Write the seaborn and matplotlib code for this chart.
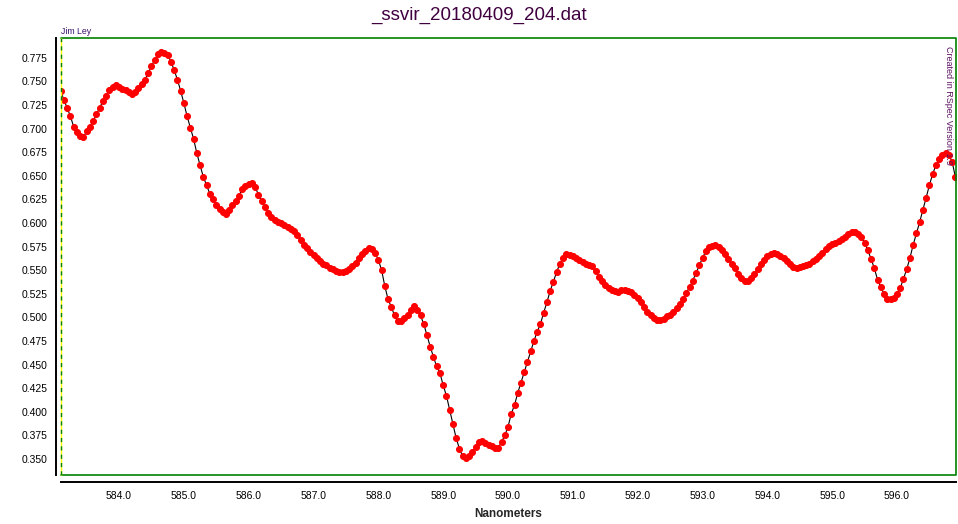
import numpy as np
import matplotlib
matplotlib.use("Agg")
import matplotlib.pyplot as plt
import seaborn as sns
from matplotlib.ticker import MultipleLocator, FormatStrFormatter

# Chart text
TITLE = "_ssvir_20180409_204.dat"
AUTHOR = "Jim Ley"
CREDIT = "Created in RSpec Version 1.9"
X_LABEL = "Nanometers"

# Spectrum sampled on a regular wavelength grid (nm)
WL_START = 583.10
WL_STEP = 0.05
flux = [
    0.740, 0.730, 0.722, 0.713, 0.702, 0.696, 0.692, 0.691, 0.697, 0.702,
    0.708, 0.715, 0.722, 0.729, 0.735, 0.741, 0.744, 0.746, 0.744, 0.742,
    0.741, 0.739, 0.737, 0.739, 0.743, 0.747, 0.752, 0.759, 0.766, 0.773,
    0.779, 0.781, 0.780, 0.778, 0.771, 0.762, 0.752, 0.740, 0.727, 0.713,
    0.701, 0.689, 0.674, 0.661, 0.649, 0.640, 0.631, 0.625, 0.619, 0.615,
    0.612, 0.609, 0.614, 0.619, 0.623, 0.629, 0.636, 0.639, 0.641, 0.642,
    0.638, 0.630, 0.623, 0.617, 0.611, 0.606, 0.603, 0.601, 0.600, 0.598,
    0.596, 0.594, 0.591, 0.587, 0.582, 0.577, 0.573, 0.569, 0.566, 0.563,
    0.560, 0.557, 0.555, 0.552, 0.551, 0.549, 0.548, 0.548, 0.549, 0.551,
    0.554, 0.558, 0.563, 0.567, 0.570, 0.573, 0.572, 0.568, 0.561, 0.550,
    0.533, 0.519, 0.511, 0.502, 0.496, 0.496, 0.499, 0.502, 0.508, 0.512,
    0.508, 0.502, 0.493, 0.481, 0.469, 0.458, 0.448, 0.441, 0.428, 0.417,
    0.402, 0.387, 0.372, 0.361, 0.353, 0.351, 0.353, 0.357, 0.363, 0.368,
    0.369, 0.367, 0.365, 0.364, 0.362, 0.362, 0.368, 0.375, 0.384, 0.398,
    0.407, 0.420, 0.431, 0.442, 0.453, 0.464, 0.475, 0.485, 0.493, 0.505,
    0.516, 0.528, 0.538, 0.548, 0.557, 0.563, 0.567, 0.566, 0.565, 0.563,
    0.561, 0.559, 0.557, 0.556, 0.554, 0.549, 0.543, 0.539, 0.534, 0.531,
    0.529, 0.528, 0.527, 0.529, 0.529, 0.528, 0.527, 0.524, 0.521, 0.516,
    0.511, 0.506, 0.502, 0.499, 0.497, 0.497, 0.498, 0.501, 0.503, 0.506,
    0.510, 0.514, 0.520, 0.526, 0.532, 0.539, 0.547, 0.555, 0.563, 0.570,
    0.575, 0.576, 0.577, 0.575, 0.571, 0.567, 0.562, 0.557, 0.552, 0.546,
    0.542, 0.539, 0.539, 0.542, 0.546, 0.551, 0.557, 0.561, 0.565, 0.567,
    0.568, 0.567, 0.565, 0.563, 0.560, 0.557, 0.553, 0.552, 0.553, 0.554,
    0.555, 0.557, 0.560, 0.562, 0.565, 0.568, 0.572, 0.576, 0.578, 0.579,
    0.581, 0.583, 0.585, 0.588, 0.590, 0.590, 0.588, 0.585, 0.579, 0.571,
    0.562, 0.552, 0.540, 0.532, 0.525, 0.520, 0.519, 0.521, 0.525, 0.531,
    0.541, 0.551, 0.563, 0.577, 0.589, 0.601, 0.614, 0.627, 0.640, 0.652,
    0.661, 0.668, 0.672, 0.674, 0.672, 0.665, 0.649,
]
wavelength = np.round(WL_START + WL_STEP * np.arange(len(flux)), 3)

# Axis ranges
x_range = (583.105, 596.91)
y_range = (0.333, 0.796)

sns.set_style("white")
plt.rcParams["font.family"] = ["Liberation Sans", "DejaVu Sans"]

fig = plt.figure(figsize=(9.58, 5.24), dpi=100)
ax = fig.add_axes([0.0637, 0.0935, 0.9342, 0.834])

sns.lineplot(x=wavelength, y=flux, ax=ax, color="black", linewidth=0.8,
             marker="o", markersize=4.3, markerfacecolor="red",
             markeredgecolor="red", errorbar=None, sort=False)

ax.set_xlim(*x_range)
ax.set_ylim(*y_range)
ax.xaxis.set_major_locator(MultipleLocator(1.0))
ax.xaxis.set_major_formatter(FormatStrFormatter("%.1f"))
ax.yaxis.set_major_locator(MultipleLocator(0.025))
ax.yaxis.set_major_formatter(FormatStrFormatter("%.3f"))
ax.set_xlabel("")
ax.set_ylabel("")

# Axis lines sit a little outside the green plot frame
for side in ["top", "right"]:
    ax.spines[side].set_visible(False)
ax.spines["left"].set_position(("outward", 3.6))
ax.spines["bottom"].set_position(("outward", 4.8))
for side in ["left", "bottom"]:
    ax.spines[side].set_color("black")
    ax.spines[side].set_linewidth(1.4)
ax.tick_params(axis="both", direction="out", length=4.5, width=1,
               color="black", labelsize=7.5, labelcolor="black")
ax.tick_params(axis="y", pad=1.5)
ax.tick_params(axis="x", pad=2.5)

# Green frame, dashed yellow/green on the left
ax.plot([0, 1, 1, 0], [1, 1, 0, 0], transform=ax.transAxes, color="#008000",
        linewidth=1.2, clip_on=False)
ax.plot([0, 0], [0, 1], transform=ax.transAxes, color="#ffff00",
        linewidth=1.0, clip_on=False)
ax.plot([0, 0], [0, 1], transform=ax.transAxes, color="#008000",
        linewidth=1.0, linestyle=(0, (3, 3)), clip_on=False)

fig.text(0.5, 1 - 15 / 524, TITLE, ha="center", va="center",
         fontsize=13.5, color="#400040")
fig.text(61 / 958, 1 - 31 / 524, AUTHOR, ha="left", va="center",
         fontsize=6.3, color="#3c1470")
fig.text(948 / 958, 1 - 46 / 524, CREDIT, ha="center", va="top",
         rotation=270, fontsize=6.5, color="#5a1060")
fig.text(508.5 / 958, 1 - 514 / 524, X_LABEL, ha="center", va="center",
         fontsize=8.5, fontweight="bold")

fig.savefig("out.png", dpi=100)
